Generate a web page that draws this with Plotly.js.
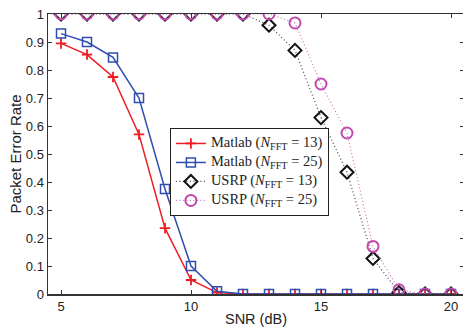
<!DOCTYPE html>
<html><head><meta charset="utf-8">
<script src="https://cdn.plot.ly/plotly-3.0.1.min.js"></script>
<style>html,body{margin:0;padding:0;overflow:hidden;background:#fff}</style>
</head><body><div id="chart"></div>
<script>
const snr = [5,6,7,8,9,10,11,12,13,14,15,16,17,18,19,20];
const matlab13 = [0.895,0.855,0.775,0.57,0.235,0.05,0.005,0,0,0,0,0,0,0,0,0];
const matlab25 = [0.93,0.90,0.845,0.70,0.375,0.10,0.01,0,0,0,0,0,0,0,0,0];
const usrp13 = [1,1,1,1,1,1,1,1,0.96,0.87,0.63,0.435,0.127,0.005,0,0];
const usrp25 = [1,1,1,1,1,1,1,1,1,0.968,0.75,0.575,0.17,0.015,0,0];
const names = ['Matlab (<i>N</i><sub>FFT</sub> = 13)','Matlab (<i>N</i><sub>FFT</sub> = 25)','USRP (<i>N</i><sub>FFT</sub> = 13)','USRP (<i>N</i><sub>FFT</sub> = 25)'];
const yticks = [0,0.1,0.2,0.3,0.4,0.5,0.6,0.7,0.8,0.9,1];
const yticklabels = ['0','0.1','0.2','0.3','0.4','0.5','0.6','0.7','0.8','0.9','1'];
const xticks = [5,10,15,20];

const big = s => '<span style="font-size:14.5px">' + s + '</span>';
const traces = [
 {x:snr,y:matlab13,name:big(names[0]),mode:'lines+markers',line:{color:'#ee1c25',width:1.5},
  marker:{symbol:'cross-thin-open',size:7.5,line:{color:'#ee1c25',width:1.8}}},
 {x:snr,y:matlab25,name:big(names[1]),mode:'lines+markers',line:{color:'#2f4fb0',width:1.5},
  marker:{symbol:'square-open',size:9,color:'#2f4fb0',line:{width:1.5}}},
 {x:snr,y:usrp13,name:big(names[2]),mode:'lines+markers',line:{color:'#444',width:1.2,dash:'1px,2.5px'},
  marker:{symbol:'diamond-open',size:10,color:'#111',line:{width:2}}},
 {x:snr,y:usrp25,name:big(names[3]),mode:'lines+markers',line:{color:'#d070c0',width:1.2,dash:'1px,2.5px'},
  marker:{symbol:'circle-open',size:11,color:'#c04aae',line:{width:2}}}
];
const axcommon = {showgrid:false,zeroline:false,showline:true,linecolor:'#333',linewidth:1.5,
  mirror:'ticks',ticks:'inside',ticklen:4,tickcolor:'#333',tickwidth:1,
  tickfont:{family:'Liberation Sans, Arial, sans-serif',size:13,color:'#222'}};
const layout = {
 width:467,height:327,margin:{l:48,r:3,t:14,b:33},
 paper_bgcolor:'#fff',plot_bgcolor:'#fff',
 xaxis:Object.assign({},axcommon,{range:[4.5,20.5],tickvals:xticks,ticktext:xticks.map(String),
   title:{text:'SNR (dB)',font:{family:'Liberation Sans, Arial, sans-serif',size:14.5,color:'#222'},standoff:3}}),
 yaxis:Object.assign({},axcommon,{range:[0,1],tickvals:yticks,ticktext:yticklabels,
   title:{text:'Packet Error Rate',font:{family:'Liberation Sans, Arial, sans-serif',size:15,color:'#222'},standoff:0}}),
 showlegend:true,
 legend:{x:0.293,y:0.593,xanchor:'left',yanchor:'top',bgcolor:'#fff',bordercolor:'#222',borderwidth:1,
   font:{family:'Liberation Serif, Times New Roman, serif',size:10,color:'#222'},tracegroupgap:0,itemwidth:30}
};
Plotly.newPlot('chart',traces,layout,{displayModeBar:false,staticPlot:true});
</script></body></html>
